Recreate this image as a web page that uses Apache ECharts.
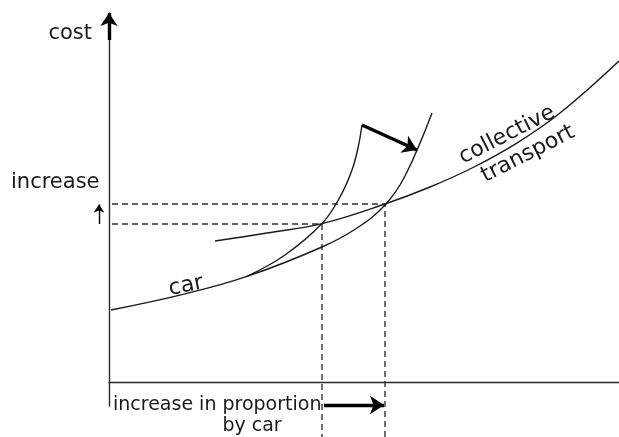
<!DOCTYPE html>
<html><head><meta charset="utf-8">
<script src="https://cdn.jsdelivr.net/npm/echarts@6/dist/echarts.min.js"></script>
<style>html,body{margin:0;padding:0;background:#fff}#c{width:619px;height:437px}</style>
</head><body><div id="c"></div>
<script>
// Car cost curve (common part continuing into the shifted curve)
const carX = [0.4, 14.8, 27.6, 42.6, 49.6, 55.2, 59.2, 64.6];
const carY = [18, 21.9, 26.4, 33.75, 38.5, 44.25, 51.5, 67.25];
// Original (steeper) car branch
const carOldX = [27.6, 35.2, 42.6, 46.2, 48.6, 49.8, 50.6];
const carOldY = [26.4, 31.75, 39.6, 46.25, 53, 58.5, 64.25];
// Collective transport curve
const ctX = [21.2, 31.6, 42.6, 55.2, 64.2, 72.6, 81.4, 90.2, 102];
const ctY = [35.25, 37.25, 39.6, 44.5, 48.75, 53.5, 59.6, 67.25, 80.25];
// Equilibria: cost level and car share, before / after
const costLevels = [39.5, 44.5];
const carShares = [42.6, 55.2];
// Shift arrow (from old car curve top to new car curve)
const shiftFrom = [50.6, 64.25];
const shiftTo = [61.6, 58];
const texts = {cost: 'cost', increase: 'increase', car: 'car', ct1: 'collective', ct2: 'transport', xa1: 'increase in proportion', xa2: 'by car'};

const zip = (xs, ys) => xs.map((x, i) => [x, ys[i]]);
const ink = '#1a1a1a';
const font = (s) => s + 'px "DejaVu Sans"';
const deg = Math.PI / 180;

const curve = (name, data) => ({
  type: 'line', name, data, smooth: 0.4, showSymbol: false, symbol: 'none',
  lineStyle: {color: ink, width: 1.4}, clip: false, silent: true, z: 3
});
const dashed = (lvl, share) => ({
  type: 'line', data: [[-3.4, lvl], [share, lvl], [share, -14]], showSymbol: false, symbol: 'none',
  lineStyle: {color: '#333', width: 1.4, type: [6, 4]}, clip: false, silent: true, z: 2
});

const chart = echarts.init(document.getElementById('c'), null, {renderer: 'canvas'});
chart.setOption({
  animation: false,
  backgroundColor: '#fff',
  grid: {left: 109, right: 0, top: 13, bottom: 31},
  xAxis: {type: 'value', min: 0, max: 102, axisLine: {onZero: true, lineStyle: {color: '#2a2a2a', width: 1.4}},
    axisTick: {show: false}, axisLabel: {show: false}, splitLine: {show: false}},
  yAxis: {type: 'value', min: -6, max: 92.25, axisLine: {show: true, lineStyle: {color: '#2a2a2a', width: 1.4}},
    axisTick: {show: false}, axisLabel: {show: false}, splitLine: {show: false}},
  series: [
    curve('car', zip(carX, carY)),
    curve('car old', zip(carOldX, carOldY)),
    curve('collective transport', zip(ctX, ctY)),
    dashed(costLevels[0], carShares[0]),
    dashed(costLevels[1], carShares[1]),
    {
      type: 'lines', coordinateSystem: 'cartesian2d', clip: false, silent: true, z: 4,
      symbol: ['none', 'arrow'],
      lineStyle: {color: '#000', width: 3.4, opacity: 1},
      data: [
        {coords: [[0, 85.5], [0, 92.25]], symbolSize: 13},
        {coords: [shiftFrom, shiftTo], symbolSize: 14},
        {coords: [[carShares[0] + 0.4, -5.75], [carShares[1] - 0.2, -5.75]], symbolSize: 14},
        {coords: [[-2, costLevels[0]], [-2, costLevels[1] - 0.1]], symbolSize: 8, lineStyle: {width: 1.4}}
      ]
    }
  ],
  graphic: [
    {type: 'text', x: 92, y: 34, style: {text: texts.cost, font: font(21), fill: ink, textAlign: 'right', textVerticalAlign: 'middle'}},
    {type: 'text', x: 11, y: 183, style: {text: texts.increase, font: font(21), fill: ink, textAlign: 'left', textVerticalAlign: 'middle'}},
    {type: 'text', x: 186, y: 286, rotation: 11 * deg, style: {text: texts.car, font: font(22), fill: ink, textAlign: 'center', textVerticalAlign: 'middle'}},
    {type: 'text', x: 507, y: 135, rotation: 27 * deg, style: {text: texts.ct1, font: font(22), fill: ink, textAlign: 'center', textVerticalAlign: 'middle'}},
    {type: 'text', x: 528, y: 154, rotation: 27 * deg, style: {text: texts.ct2, font: font(22), fill: ink, textAlign: 'center', textVerticalAlign: 'middle'}},
    {type: 'text', x: 113, y: 405, style: {text: texts.xa1, font: font(19), fill: ink, textAlign: 'left', textVerticalAlign: 'middle'}},
    {type: 'text', x: 252, y: 426, style: {text: texts.xa2, font: font(19), fill: ink, textAlign: 'center', textVerticalAlign: 'middle'}}
  ]
});
</script></body></html>
